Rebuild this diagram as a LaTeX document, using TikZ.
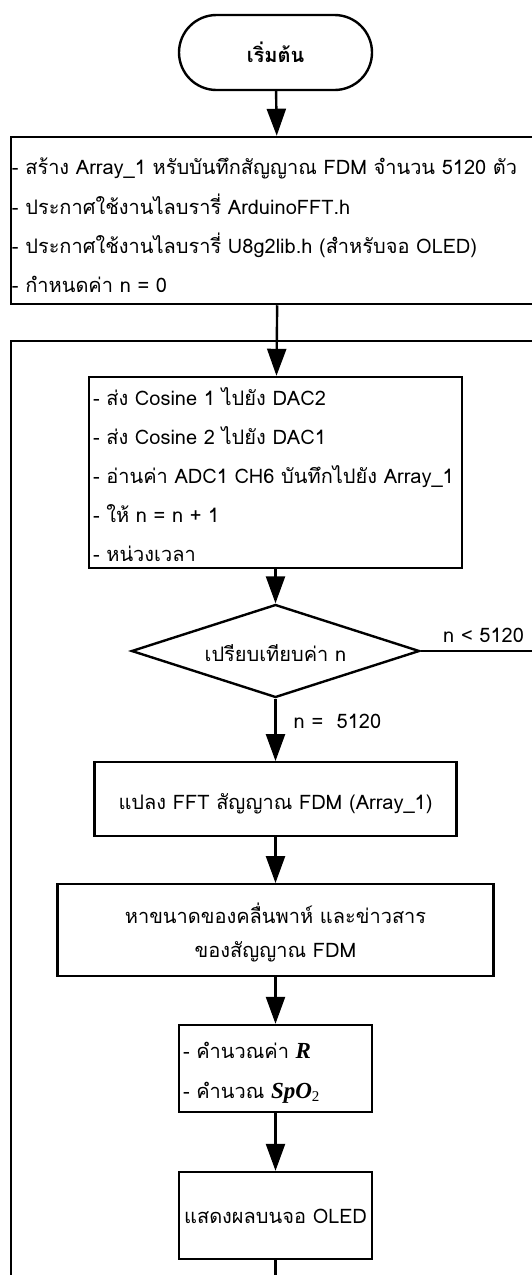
\documentclass[tikz,border=0pt]{standalone}
\usepackage{fontspec}
\setmainfont{Loma}[Script=Thai]
\newfontfamily\tnr{Liberation Serif}
\usetikzlibrary{arrows.meta,shapes.geometric,shapes.misc}
% invisible struts that fix the space above the first and below the last line
\newcommand{\upstrut}[1]{\rule{0pt}{#1pt}}
\newcommand{\dnstrut}[1]{\rule[-#1pt]{0pt}{#1pt}}
\newcommand{\vR}{{\fontsize{23}{25}\tnr\bfseries\itshape R}}
\newcommand{\vSpO}{{\fontsize{23}{25}\tnr\bfseries\itshape SpO\raisebox{-3pt}{\fontsize{15}{16}\tnr\mdseries\upshape 2}}}
\tikzset{
  flow/.style={draw, line width=2.4pt, inner xsep=0pt, inner ysep=0pt, align=center,
    font=\fontsize{20}{33.3}\selectfont},
  listbox/.style={flow, align=left},
  link/.style={line width=2.4pt, -{Triangle[width=19pt,length=27pt]}},
  loopline/.style={line width=2.4pt},
  lbl/.style={font=\fontsize{20}{24}\selectfont, inner sep=0pt, anchor=base west}
}
\begin{document}
\begin{tikzpicture}[x=1pt, y=-1pt]
\useasboundingbox (0,0) rectangle (532,1275);
\clip (0,0) rectangle (532,1275);

% start terminator
\node[flow, rounded rectangle, minimum width=193pt, minimum height=75pt,
  font=\fontsize{20}{24}\selectfont\bfseries] (start) at (275.5,52.5)
  {\upstrut{47}\dnstrut{28}เริ่มต้น};

% initialisation block (runs past the right margin)
\node[listbox, minimum width=534pt, minimum height=167pt, text width=532pt,
  inner xsep=1pt, font=\fontsize{20}{39.2}\selectfont] (init) at (278,220.5) {%
\mbox{\upstrut{38}- สร้าง Array\_1 หรับบันทึกสัญญาณ FDM จำนวน 5120 ตัว}\\
\mbox{- ประกาศใช้งานไลบรารี่ ArduinoFFT.h}\\
\mbox{- ประกาศใช้งานไลบรารี่ U8g2lib.h (สำหรับจอ OLED)}\\
\mbox{- กำหนดค่า n = 0\dnstrut{11.5}}};

% loop merge point
\coordinate (merge) at (275.5,341);

% sampling block
\node[listbox, minimum width=373pt, minimum height=191pt, text width=365pt,
  inner xsep=4pt, font=\fontsize{20}{39}\selectfont] (sample) at (275.5,472.5) {%
\mbox{\upstrut{28}- ส่ง Cosine 1 ไปยัง DAC2}\\
\mbox{- ส่ง Cosine 2 ไปยัง DAC1}\\
\mbox{- อ่านค่า ADC1 CH6 บันทึกไปยัง Array\_1}\\
\mbox{- ให้ n = n + 1}\\
\mbox{- หน่วงเวลา\dnstrut{7}}};

% decision
\node[flow, diamond, aspect=3.1, minimum width=288pt, minimum height=93pt,
  font=\fontsize{20}{24}\selectfont] (cmp) at (275.5,651)
  {\upstrut{25}\dnstrut{5}เปรียบเทียบค่า n};

\node[flow, minimum width=362pt, minimum height=73.5pt] (fft) at (275.5,799)
  {\upstrut{47}\dnstrut{26.5}แปลง FFT สัญญาณ FDM (Array\_1)};

\node[flow, minimum width=436pt, minimum height=91.5pt] (mag) at (275.5,930)
  {\upstrut{39.7}หาขนาดของคลื่นพาห์ และข่าวสาร\\ของสัญญาณ FDM\dnstrut{18.5}};

\node[listbox, minimum width=193pt, minimum height=87pt, text width=185pt,
  inner xsep=4pt, font=\fontsize{20}{40}\selectfont] (calc) at (275.5,1068.5)
  {\mbox{\upstrut{33.8}- คำนวณค่า \vR}\\\mbox{- คำนวณ \vSpO\dnstrut{13.2}}};

\node[flow, minimum width=193pt, minimum height=87pt] (show) at (275.5,1215.5)
  {\upstrut{51}\dnstrut{36}แสดงผลบนจอ OLED};

% corners of the two return paths, beyond the margins
\coordinate (rb) at (548,651);
\coordinate (rt) at (548,341);
\coordinate (bb) at (275.5,1295);
\coordinate (lb) at (11,1295);
\coordinate (lt) at (11,341);

% connectors
\draw[link] (start) -- (init);
\draw[link] (init) -- (sample);
\draw[link] (sample) -- (cmp);
\draw[link] (cmp) -- (fft);
\draw[link] (fft) -- (mag);
\draw[link] (mag) -- (calc);
\draw[link] (calc) -- (show);
\draw[loopline] (cmp.east) -- (rb) -- (rt) -- (merge);
\draw[loopline] (show.south) -- (bb) -- (lb) -- (lt) -- (merge);

% branch labels
\node[lbl] (yes) at (443,642) {n < 5120};
\node[lbl] (no) at (293.5,728) {n =\ \ 5120};
\end{tikzpicture}
\end{document}
